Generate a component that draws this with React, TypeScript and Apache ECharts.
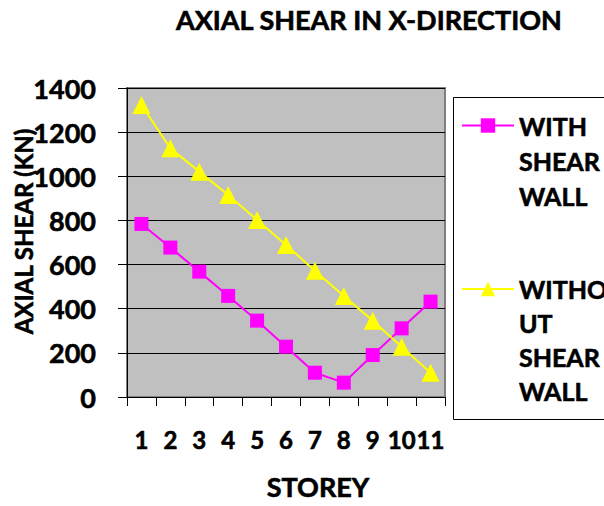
import React, { useEffect, useRef } from "react";
import * as echarts from "echarts";

const storeys = ["1", "2", "3", "4", "5", "6", "7", "8", "9", "10", "11"];
const withShearWall = [784, 677, 568, 458, 346, 228, 110, 65, 190, 311, 432];
const withoutShearWall = [1323, 1127, 1021, 915, 802, 689, 572, 458, 346, 228, 110];
const yTicks = { min: 0, max: 1400, interval: 200 };

const FONT = "Lato";
const bold = { fontFamily: FONT, fontWeight: "bold", color: "#000", textBorderColor: "#000", textBorderWidth: 0.6 };

export default function App() {
  const ref = useRef<HTMLDivElement>(null);
  useEffect(() => {
    document.body.style.margin = "0";
    const chart = echarts.init(ref.current!, null, { renderer: "svg" });
    chart.setOption({
      animation: false,
      backgroundColor: "#ffffff",
      title: {
        text: "AXIAL SHEAR IN X-DIRECTION",
        left: 176,
        top: 6,
        padding: 0,
        textStyle: { ...bold, fontSize: 27 },
      },
      grid: {
        left: 127,
        top: 88,
        right: 159,
        bottom: 109,
        outerBoundsMode: "none",
        containLabel: false,
        show: true,
        backgroundColor: "#C0C0C0",
        borderColor: "#808080",
        borderWidth: 2,
      },
      legend: [
        {
          data: ["WITH SHEAR WALL"],
          left: 461,
          top: 125 - 87,
          padding: 0,
          orient: "vertical",
          itemWidth: 52,
          itemHeight: 18,
          formatter: () => "\n\nWITH\nSHEAR\nWALL",
          textStyle: { ...bold, fontSize: 25, lineHeight: 35 },
        },
        {
          data: ["WITHOUT SHEAR WALL"],
          left: 461,
          top: 289 - 119,
          padding: 0,
          orient: "vertical",
          itemWidth: 52,
          itemHeight: 18,
          formatter: () => "\n\n\nWITHO\nUT\nSHEAR\nWALL",
          textStyle: { ...bold, fontSize: 25, lineHeight: 34 },
        },
      ],
      graphic: [
        {
          type: "rect",
          shape: { x: 453.5, y: 97.5, width: 170, height: 322 },
          style: { fill: "none", stroke: "#000", lineWidth: 1 },
          z: 0,
        },
      ],
      xAxis: {
        type: "category",
        data: storeys,
        boundaryGap: true,
        name: "STOREY",
        nameLocation: "middle",
        nameGap: 76,
        nameMoveOverlap: false,
        nameTextStyle: { ...bold, fontSize: 27, padding: [0, 0, 0, 64] },
        axisLine: { show: true, lineStyle: { color: "#000", width: 1 } },
        axisTick: { show: true, length: 9, interval: 0, lineStyle: { color: "#000" } },
        axisLabel: { interval: 0, margin: 30, hideOverlap: false, ...bold, fontSize: 24 },
        splitLine: { show: false },
      },
      yAxis: {
        type: "value",
        min: yTicks.min,
        max: yTicks.max,
        interval: yTicks.interval,
        name: "AXIAL SHEAR (KN)",
        nameLocation: "middle",
        nameGap: 92,
        nameMoveOverlap: false,
        nameTextStyle: { ...bold, fontSize: 24, padding: [0, 0, 0, 22] },
        axisLine: { show: true, lineStyle: { color: "#000", width: 1 } },
        axisTick: { show: true, length: 9, lineStyle: { color: "#000" } },
        axisLabel: {
          margin: 31,
          formatter: (v: number) => String(v),
          ...bold,
          fontSize: 27,
        },
        splitLine: { show: true, lineStyle: { color: "#000", width: 1 } },
      },
      series: [
        {
          name: "WITH SHEAR WALL",
          type: "line",
          data: withShearWall,
          symbol: "rect",
          symbolSize: 14,
          lineStyle: { color: "#FF00FF", width: 2 },
          itemStyle: { color: "#FF00FF" },
        },
        {
          name: "WITHOUT SHEAR WALL",
          type: "line",
          data: withoutShearWall,
          symbol: "triangle",
          symbolSize: 18,
          lineStyle: { color: "#FFFF00", width: 2 },
          itemStyle: { color: "#FFFF00" },
        },
      ],
    });
    return () => chart.dispose();
  }, []);
  return <div ref={ref} style={{ position: "absolute", left: 0, top: 0, width: 604, height: 506 }} />;
}
